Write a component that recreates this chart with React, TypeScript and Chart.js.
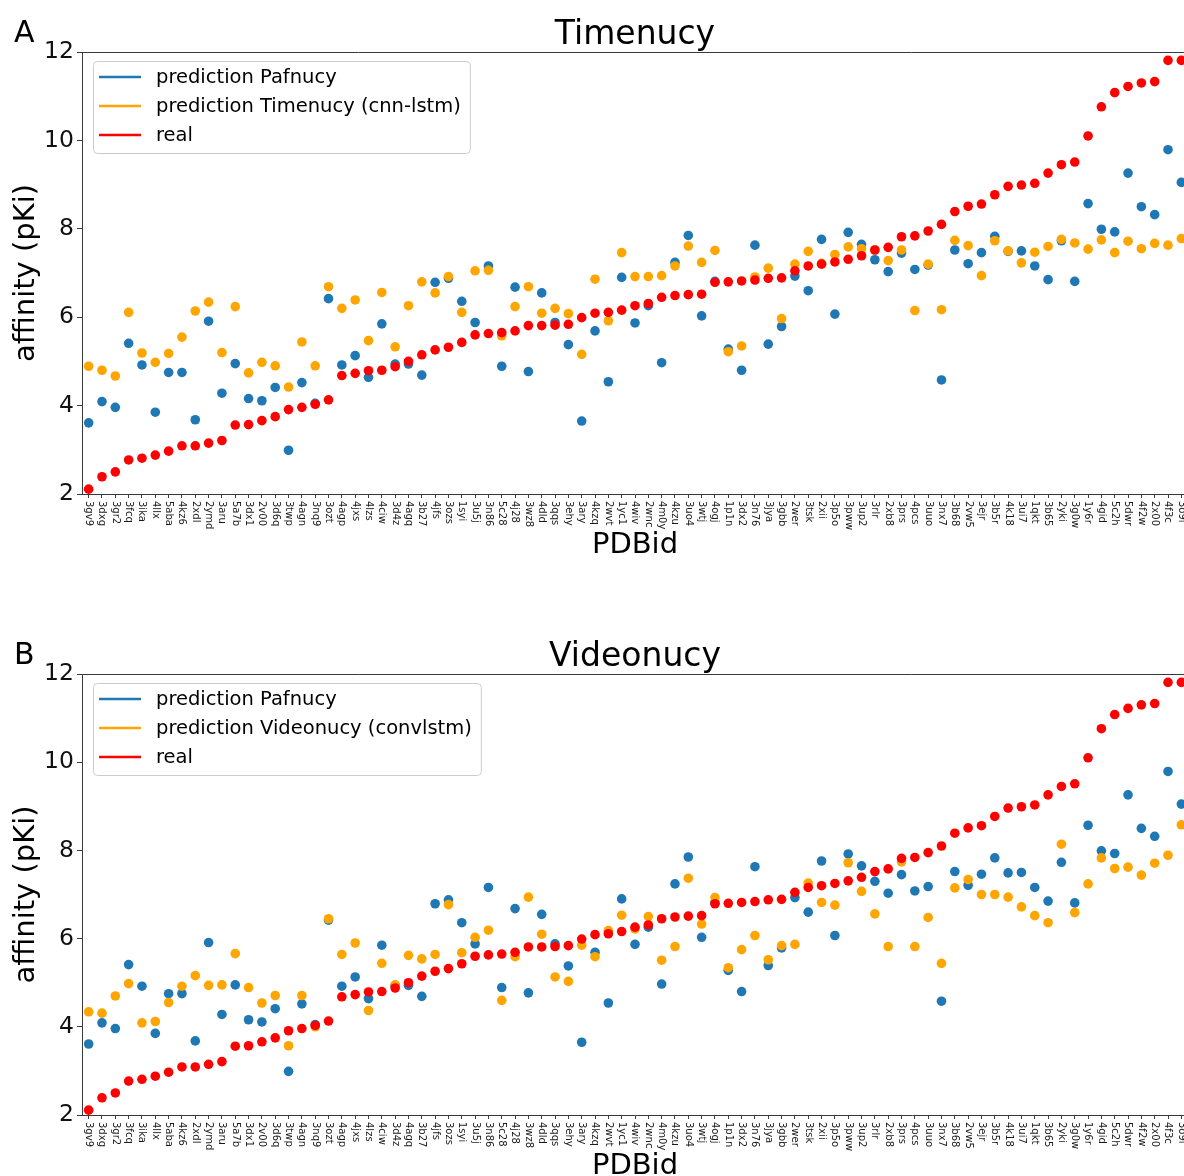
import React, { useEffect, useRef } from 'react';
import { Chart, registerables } from 'chart.js';

Chart.register(...registerables);

const pdbIds = [
  '3gv9', '3dxg', '3gr2', '3fcq', '3ika', '4llx', '5aba', '4kz6', '2xdl', '2ymd',
  '3aru', '5a7b', '3dx1', '2v00', '3d6q', '3twp', '4agn', '3nq9', '3ozt', '4agp',
  '4jxs', '4lzs', '4ciw', '3d4z', '4agq', '3b27', '4jfs', '3ozs', '1syi', '3u5j',
  '3n86', '5c28', '4j28', '3wz8', '4dld', '3qqs', '3ehy', '3ary', '4kzq', '2wvt',
  '1yc1', '4wiv', '2wnc', '4m0y', '4kzu', '3uo4', '3wtj', '4ogj', '1p1n', '3dx2',
  '3n76', '3jya', '3gbb', '2wer', '3tsk', '2xii', '3p5o', '3pww', '3up2', '3rlr',
  '2xb8', '3prs', '4pcs', '3uuo', '3nx7', '3b68', '2vw5', '3ejr', '3b5r', '4k18',
  '3ui7', '1qkt', '3b65', '2yki', '3g0w', '1y6r', '4gid', '5c2h', '5dwr', '4f2w',
  '2x00', '4f3c', '3o9i',
];

const realAffinity = [
  2.11, 2.39, 2.50, 2.77, 2.81, 2.88, 2.97, 3.09, 3.09, 3.15,
  3.21, 3.56, 3.57, 3.66, 3.75, 3.91, 3.96, 4.03, 4.13, 4.68,
  4.73, 4.79, 4.80, 4.88, 5.00, 5.15, 5.26, 5.32, 5.43, 5.60,
  5.63, 5.65, 5.69, 5.81, 5.81, 5.82, 5.84, 5.99, 6.09, 6.11,
  6.16, 6.26, 6.31, 6.45, 6.49, 6.51, 6.52, 6.79, 6.80, 6.82,
  6.84, 6.88, 6.89, 7.05, 7.16, 7.20, 7.25, 7.31, 7.39, 7.52,
  7.58, 7.82, 7.84, 7.95, 8.10, 8.39, 8.51, 8.56, 8.77, 8.96,
  8.99, 9.03, 9.26, 9.45, 9.51, 10.10, 10.76, 11.08, 11.22, 11.30,
  11.33, 11.81, 11.81,
];

const pafnucyPred = [
  3.61, 4.09, 3.96, 5.41, 4.92, 3.85, 4.75, 4.75, 3.68, 5.91,
  4.28, 4.95, 4.16, 4.11, 4.41, 2.99, 4.52, 4.05, 6.42, 4.92,
  5.13, 4.64, 5.85, 4.94, 4.94, 4.69, 6.79, 6.88, 6.36, 5.88,
  7.16, 4.89, 6.68, 4.77, 6.55, 5.88, 5.38, 3.65, 5.69, 4.54,
  6.90, 5.87, 6.26, 4.97, 7.24, 7.85, 6.03, 6.81, 5.28, 4.80,
  7.63, 5.39, 5.79, 6.93, 6.60, 7.76, 6.07, 7.92, 7.65, 7.30,
  7.03, 7.45, 7.08, 7.18, 4.58, 7.52, 7.21, 7.46, 7.83, 7.49,
  7.50, 7.16, 6.85, 7.73, 6.81, 8.57, 7.99, 7.93, 9.26, 8.50,
  8.32, 9.79, 9.05,
];

const timenucyPred = [
  4.89, 4.80, 4.67, 6.11, 5.19, 4.98, 5.18, 5.55, 6.14, 6.34,
  5.20, 6.24, 4.74, 4.98, 4.90, 4.42, 5.44, 4.90, 6.69, 6.20,
  6.39, 5.47, 6.56, 5.33, 6.26, 6.80, 6.55, 6.92, 6.11, 7.05,
  7.06, 5.58, 6.24, 6.69, 6.09, 6.20, 6.08, 5.16, 6.86, 5.92,
  7.46, 6.92, 6.92, 6.94, 7.16, 7.61, 7.24, 7.51, 5.22, 5.35,
  6.91, 7.11, 5.97, 7.20, 7.49, 7.22, 7.42, 7.59, 7.55, 7.52,
  7.28, 7.52, 6.15, 7.20, 6.17, 7.74, 7.62, 6.94, 7.73, 7.50,
  7.23, 7.47, 7.60, 7.76, 7.68, 7.54, 7.75, 7.46, 7.72, 7.55,
  7.67, 7.63, 7.78,
];

const videonucyPred = [
  4.34, 4.31, 4.70, 4.98, 4.09, 4.12, 4.55, 4.92, 5.16, 4.94,
  4.95, 5.66, 4.89, 4.54, 4.71, 3.57, 4.71, 4.00, 6.45, 5.64,
  5.90, 4.37, 5.44, 4.95, 5.62, 5.54, 5.64, 6.77, 5.68, 6.03,
  6.19, 4.60, 5.59, 6.94, 6.10, 5.13, 5.03, 5.85, 5.59, 6.18,
  6.53, 6.22, 6.50, 5.51, 5.82, 7.37, 6.33, 6.93, 5.34, 5.75,
  6.07, 5.52, 5.84, 5.87, 7.26, 6.82, 6.76, 7.72, 7.07, 6.56,
  5.82, 7.74, 5.82, 6.48, 5.44, 7.15, 7.34, 7.00, 7.00, 6.94,
  6.72, 6.52, 6.36, 8.14, 6.59, 7.24, 7.83, 7.59, 7.62, 7.44,
  7.71, 7.89, 8.58,
];

const yTickValues = [2, 4, 6, 8, 10, 12];

const BLUE = '#1f77b4';
const ORANGE = '#ffa500';
const RED = '#ff0000';
const AXIS = '#3a3a3a';
const FONT = '"DejaVu Sans", Verdana, sans-serif';

const CANVAS_W = 1200;
const CANVAS_H = 588;

type Panel = {
  letter: string;
  title: string;
  orangeLabel: string;
  orangeData: number[];
  top: number;
  bottom: number;
};

const panels: Panel[] = [
  {
    letter: 'A',
    title: 'Timenucy',
    orangeLabel: 'prediction Timenucy (cnn-lstm)',
    orangeData: timenucyPred,
    top: 52,
    bottom: 494,
  },
  {
    letter: 'B',
    title: 'Videonucy',
    orangeLabel: 'prediction Videonucy (convlstm)',
    orangeData: videonucyPred,
    top: 86,
    bottom: 527,
  },
];

function roundRect(ctx: CanvasRenderingContext2D, x: number, y: number, w: number, h: number, r: number) {
  ctx.beginPath();
  ctx.moveTo(x + r, y);
  ctx.lineTo(x + w - r, y);
  ctx.arcTo(x + w, y, x + w, y + r, r);
  ctx.lineTo(x + w, y + h - r);
  ctx.arcTo(x + w, y + h, x + w - r, y + h, r);
  ctx.lineTo(x + r, y + h);
  ctx.arcTo(x, y + h, x, y + h - r, r);
  ctx.lineTo(x, y + r);
  ctx.arcTo(x, y, x + r, y, r);
  ctx.closePath();
}

function decorPlugin(p: Panel) {
  return {
    id: 'decor' + p.letter,
    afterDraw(chart: any) {
      const { ctx, chartArea: ca, scales } = chart;
      const xs = scales.x;
      ctx.save();

      // top spine
      ctx.strokeStyle = AXIS;
      ctx.lineWidth = 1;
      ctx.beginPath();
      ctx.moveTo(ca.left, ca.top + 0.5);
      ctx.lineTo(ca.right, ca.top + 0.5);
      ctx.stroke();

      // x tick labels (rotated clockwise)
      ctx.fillStyle = '#1a1a1a';
      ctx.font = `10px ${FONT}`;
      ctx.textAlign = 'left';
      ctx.textBaseline = 'middle';
      pdbIds.forEach((id, i) => {
        const px = xs.getPixelForValue(i);
        ctx.save();
        ctx.translate(px, ca.bottom + 7);
        ctx.rotate(Math.PI / 2);
        ctx.fillText(id, 0, 0);
        ctx.restore();
      });

      // panel letter
      ctx.fillStyle = '#000';
      ctx.font = `30px ${FONT}`;
      ctx.textAlign = 'left';
      ctx.textBaseline = 'alphabetic';
      ctx.fillText(p.letter, 14, ca.top - 10);

      // title
      ctx.font = `33px ${FONT}`;
      ctx.textAlign = 'center';
      ctx.fillText(p.title, (ca.left + ca.right) / 2, ca.top - 8);

      // x title
      ctx.font = `29px ${FONT}`;
      ctx.fillText('PDBid', (ca.left + ca.right) / 2, ca.bottom + 59);

      // y title
      ctx.save();
      ctx.translate(26, (ca.top + ca.bottom) / 2);
      ctx.rotate(-Math.PI / 2);
      ctx.textAlign = 'center';
      ctx.textBaseline = 'middle';
      ctx.fillText('affinity (pKi)', 0, 0);
      ctx.restore();

      // legend
      const items = [
        { label: 'prediction Pafnucy', color: BLUE },
        { label: p.orangeLabel, color: ORANGE },
        { label: 'real', color: RED },
      ];
      ctx.font = `19.5px ${FONT}`;
      const maxW = Math.max(...items.map((it) => ctx.measureText(it.label).width));
      const bx = 93;
      const by = ca.top + 9;
      const bw = 156 + maxW + 9 - bx;
      const bh = 92;
      roundRect(ctx, bx + 0.5, by + 0.5, bw, bh, 4);
      ctx.fillStyle = 'rgba(255,255,255,0.8)';
      ctx.fill();
      ctx.strokeStyle = '#cccccc';
      ctx.lineWidth = 1;
      ctx.stroke();
      items.forEach((it, k) => {
        const ly = ca.top + 25 + k * 29;
        ctx.strokeStyle = it.color;
        ctx.lineWidth = 2.5;
        ctx.beginPath();
        ctx.moveTo(99, ly);
        ctx.lineTo(141, ly);
        ctx.stroke();
        ctx.fillStyle = '#000';
        ctx.textAlign = 'left';
        ctx.textBaseline = 'middle';
        ctx.fillText(it.label, 156, ly + 1);
      });

      ctx.restore();
    },
  };
}

function PanelChart({ p }: { p: Panel }) {
  const ref = useRef<HTMLCanvasElement | null>(null);
  useEffect(() => {
    if (!ref.current) return;
    const chart = new Chart(ref.current, {
      type: 'line',
      data: {
        labels: pdbIds,
        datasets: [
          {
            label: 'prediction Pafnucy',
            data: pafnucyPred,
            showLine: false,
            pointBackgroundColor: BLUE,
            backgroundColor: BLUE,
            borderColor: BLUE,
            order: 2,
          },
          {
            label: p.orangeLabel,
            data: p.orangeData,
            showLine: false,
            pointBackgroundColor: ORANGE,
            backgroundColor: ORANGE,
            borderColor: ORANGE,
            order: 1,
          },
          {
            label: 'real',
            data: realAffinity,
            showLine: false,
            pointBackgroundColor: RED,
            backgroundColor: RED,
            borderColor: RED,
            order: 0,
          },
        ],
      },
      options: {
        responsive: false,
        animation: false,
        devicePixelRatio: 1,
        events: [],
        layout: { padding: { top: p.top, right: 12, left: 0, bottom: 0 } },
        elements: { point: { radius: 4.8, borderWidth: 0, hoverRadius: 4.8 } },
        plugins: {
          legend: { display: false },
          title: { display: false },
          tooltip: { enabled: false },
        },
        scales: {
          x: {
            type: 'category',
            offset: true,
            grid: { offset: false, drawOnChartArea: false, drawTicks: true, tickLength: 4, color: AXIS },
            border: { display: true, color: AXIS, width: 1 },
            ticks: { display: false, autoSkip: false },
            afterFit: (s: any) => {
              s.height = CANVAS_H - p.bottom;
            },
          },
          y: {
            min: 2,
            max: 12,
            afterBuildTicks: (s: any) => {
              s.ticks = yTickValues.map((v) => ({ value: v }));
            },
            ticks: { font: { family: FONT, size: 23.5 }, color: '#111', padding: 3 },
            grid: { drawOnChartArea: false, drawTicks: true, tickLength: 5, color: AXIS },
            border: { display: true, color: AXIS, width: 1 },
            afterFit: (s: any) => {
              s.width = 82;
            },
          },
        },
      } as any,
      plugins: [decorPlugin(p)],
    });
    return () => chart.destroy();
  }, [p]);
  return (
    <canvas
      ref={ref}
      width={CANVAS_W}
      height={CANVAS_H}
      style={{ display: 'block', width: CANVAS_W, height: CANVAS_H }}
    />
  );
}

export default function App() {
  return (
    <div
      style={{
        position: 'absolute',
        left: 0,
        top: 0,
        width: 1184,
        height: 1176,
        overflow: 'hidden',
        background: '#fff',
      }}
    >
      {panels.map((p) => (
        <PanelChart key={p.letter} p={p} />
      ))}
    </div>
  );
}
